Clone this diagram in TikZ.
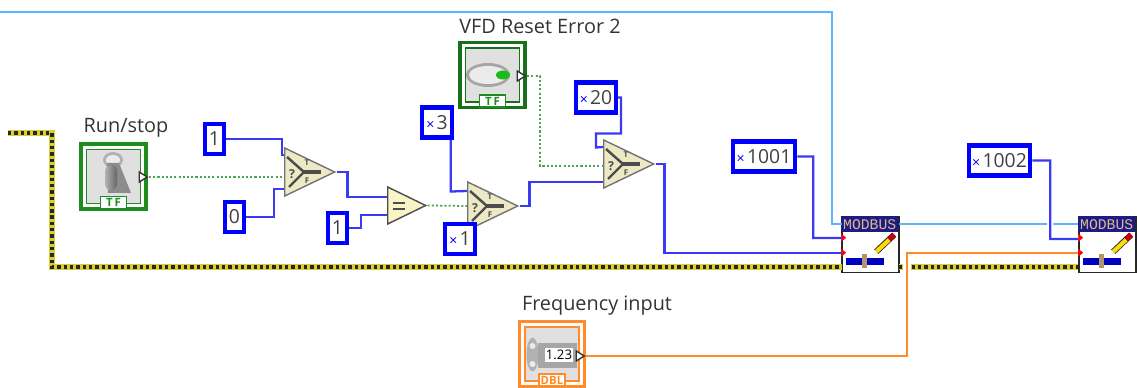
\documentclass[tikz,border=0pt]{standalone}
\usepackage{fontspec}
\setmainfont{Open Sans}
\newfontfamily\mbfont{Liberation Mono}
\usetikzlibrary{shapes.geometric}
\definecolor{wirenum}{HTML}{3A3AF5}
\definecolor{wirerefnum}{HTML}{5CB4FA}
\definecolor{wiredbl}{HTML}{FF8C28}
\definecolor{tfgreen}{HTML}{1E8C1E}
\definecolor{tfwire}{HTML}{4CA84C}
\definecolor{errbase}{HTML}{D8D030}
\definecolor{selfill}{HTML}{EDE9C4}
\definecolor{eqfill}{HTML}{F8F4C8}
\definecolor{mbnavy}{HTML}{1C1C84}
\definecolor{mbtan}{HTML}{DDB98A}
\tikzset{
  numconst/.style={draw=blue,line width=2.3pt,fill=white,minimum height=.6cm,inner sep=0pt,text=black!75,font=\fontsize{11}{12}\selectfont},
  numwire/.style={draw=wirenum,line width=1.3pt},
  refwire/.style={draw=wirerefnum,line width=1.3pt},
  tfdots/.style={draw=tfwire,line width=1pt,dash pattern=on 1.2pt off 1.2pt},
  dblwire/.style={draw=wiredbl,line width=1.3pt,preaction={draw=white,line width=4.5pt}},
  errwire/.style={draw=errbase,line width=3.4pt,postaction={draw=black!85,line width=1.9pt,dash pattern=on 1.9pt off 1.7pt}},
  selbox/.style={isosceles triangle,isosceles triangle stretches,draw=black!55,line width=.8pt,fill=selfill,minimum width=.96cm,minimum height=1cm,inner sep=0pt,anchor=lower side},
  eqbox/.style={selbox,fill=eqfill,draw=black!70,minimum width=.74cm,minimum height=.76cm},
  tfouter/.style={rectangle,line width=1.8pt,fill=white,minimum width=1.3cm,minimum height=1.3cm,inner sep=0pt},
  tfinner/.style={rectangle,line width=.8pt,fill=black!12,minimum width=1.08cm,minimum height=1.08cm,inner sep=0pt},
  tftag/.style={rectangle,draw=tfgreen,line width=.8pt,fill=white,text=tfgreen,inner sep=0pt,minimum width=.52cm,minimum height=.24cm,font=\bfseries\fontsize{6.5}{7}\selectfont},
  outpin/.style={isosceles triangle,isosceles triangle stretches,draw=black!80,fill=white,line width=.8pt,minimum width=.2cm,minimum height=.16cm,inner sep=0pt},
  mbbox/.style={rectangle,draw=black!85,line width=.9pt,fill=white,minimum width=1.14cm,minimum height=1.12cm,inner sep=0pt},
  vilabel/.style={text=black!80,inner sep=0pt,font=\fontsize{11.3}{13}\selectfont},
}
\newcommand{\hexmark}{{\color{blue}\fontsize{8}{8}\selectfont ×\,}}
\begin{document}
\begin{tikzpicture}[x=.02cm,y=-.02cm]
\useasboundingbox (0,0) rectangle (1137,388);
\clip (0,0) rectangle (1137,388);
% free ends and pins
\coordinate (ERRa) at (8,133);
\coordinate (REFa) at (0,12);
\coordinate (S1a) at (284,155);
\coordinate (S1b) at (284,189);
\coordinate (S1c) at (284,177);
\coordinate (S2a) at (467,191);
\coordinate (S2c) at (467,206);
\coordinate (S3a) at (603,147);
\coordinate (S3b) at (603,182);
\coordinate (S3c) at (603,166);
\coordinate (E1a) at (387,197);
\coordinate (E1b) at (387,215);
\coordinate (M1a) at (842,238);
\coordinate (M1b) at (842,253);
\coordinate (M1c) at (842,224);
\coordinate (M1d) at (899,224);
\coordinate (M1e) at (842,267);
\coordinate (M1f) at (899,267);
\coordinate (M2a) at (1078,239);
\coordinate (M2b) at (1078,253);
\coordinate (M2c) at (1078,224);
\coordinate (M2e) at (1078,267);
% boolean and numeric terminals
\node[tfouter,draw=tfgreen] (RUN) at (113.5,176.5) {};
\node[tfinner,draw=tfgreen] (RUNi) at (RUN) {};
\node[tftag] (RUNt) at (113.5,202.5) {T\,F};
\node[tfouter,draw=tfgreen!80!black,line width=2.2pt] (VFD) at (492.5,75) {};
\node[tfinner,draw=tfgreen!80!black] (VFDi) at (VFD) {};
\node[tftag] (VFDt) at (492.5,101) {T\,F};
\node[tfouter,draw=wiredbl] (FRQ) at (552,354) {};
\node[tfinner,draw=wiredbl] (FRQi) at (FRQ) {};
\node[tftag,draw=wiredbl,text=wiredbl] (FRQt) at (552,380) {DBL};
% toggle, led and numeric control
\fill[black!30] (113,160) ellipse (10 and 8);
\fill[black!8] (113,160) ellipse (7 and 5);
\fill[black!45] (107,163) -- (119,163) -- (131,193) -- (108,193) -- cycle;
\shade[left color=black!30,right color=black!60,rounded corners=3pt] (105,165) rectangle (117,190);
\fill[black!35] (488,75) ellipse (22 and 12);
\fill[black!8] (488,75) ellipse (19 and 9);
\fill[green!70!black!90] (503,75) ellipse (7 and 4.5);
\fill[black!30] (532.5,354.5) ellipse (6 and 17);
\fill[black!8] (532.5,346) circle (3);
\fill[black!8] (532.5,364) circle (3);
\fill[black!35] (538,343) rectangle (577,368);
\node[fill=white,inner sep=0pt,minimum width=.56cm,minimum height=.28cm,text=black,font=\fontsize{7.5}{8}\selectfont] (FRQv) at (559,355) {1.23};
\node[outpin] (RUNo) at (142,177) {};
\node[outpin] (VFDo) at (520,76) {};
\node[outpin] (FRQo) at (579,356) {};
% labels
\node[vilabel] (RUNl) at (126,128) {Run/stop};
\node[vilabel] (VFDl) at (540,26) {VFD Reset Error 2};
\node[vilabel] (FRQl) at (597,306) {Frequency input};
% comparison and select
\node[selbox] (S1) at (284,172) {};
\node[selbox] (S2) at (467,206) {};
\node[selbox] (S3) at (603,164) {};
\node[eqbox] (E1) at (387,205.5) {};
\foreach \s in {S1,S2,S3} {
  \begin{scope}[shift={(\s.lower side)}]
    \draw[black!70,line width=1.4pt] (3,-15) -- (20,0) -- (5,15);
    \draw[black!70,line width=2pt] (20,0) -- (37,0);
    \node[inner sep=0pt,text=black!70,font=\bfseries\fontsize{7}{8}\selectfont] at (8,2) {?};
    \node[inner sep=0pt,text=black!70,font=\bfseries\fontsize{4.5}{5}\selectfont] at (23,-9) {T};
    \node[inner sep=0pt,text=black!70,font=\bfseries\fontsize{4.5}{5}\selectfont] at (23,9) {F};
  \end{scope}
}
\draw[black!70,line width=1.4pt] (393,203) -- (405,203) (393,209) -- (405,209);
% constants
\node[numconst,minimum width=.39cm] (K1) at (214.5,139) {1};
\node[numconst,minimum width=.39cm] (K0) at (234.5,217) {0};
\node[numconst,minimum width=.39cm] (K2) at (337.5,228) {1};
\node[numconst,minimum width=.6cm] (X3) at (437,122.5) {\hexmark 3};
\node[numconst,minimum width=.6cm] (X1) at (460,239) {\hexmark 1};
\node[numconst,minimum width=.8cm] (X20) at (596,97.5) {\hexmark 20};
\node[numconst,minimum width=1.25cm] (X1001) at (764,156.5) {\hexmark 1001};
\node[numconst,minimum width=1.23cm] (X1002) at (999.5,160.5) {\hexmark 1002};
% modbus nodes
\node[mbbox] (M1) at (870.5,244.5) {};
\node[mbbox] (M2) at (1107.5,244.5) {};
\foreach \m in {M1,M2} {
  \begin{scope}[shift={(\m.north west)}]
    \fill[mbnavy] (0,0) rectangle (57,16);
    \node[inner sep=0pt,text=mbtan,font=\mbfont\fontsize{8.4}{9}\selectfont] at (28.5,8.5) {MODBUS};
    \fill[blue!75!black] (5,42) rectangle (43,49);
    \fill[mbtan!80!black] (21,38) rectangle (26,52);
    \draw[black!85,line width=3.4pt] (35,36) -- (53,19);
    \draw[yellow!80!orange,line width=2.4pt] (35,36) -- (48,24);
    \draw[red!80!black,line width=2.6pt] (48,24) -- (53,19);
    \fill[red] (0,18) -- (5,22) -- (0,26) -- cycle;
    \fill[red] (0,33) -- (5,37) -- (0,41) -- cycle;
  \end{scope}
}
% wires
\draw[errwire] (ERRa) -- (52,133) -- (52,267) -- (M1e);
\draw[errwire] (M1f) -- (M2e);
\draw[refwire] (REFa) -- (832,12) -- (832,224) -- (M1c);
\draw[refwire] (M1d) -- (M2c);
\draw[numwire] (K1.east) -- ++(56,0) -- ++(0,16) -- (S1a);
\draw[numwire] (K0.east) -- ++(28,0) -- ++(0,-28) -- (S1b);
\draw[tfdots] (RUNo.apex) -- (S1c);
\draw[numwire] (S1.apex) -- ++(11,0) -- ++(0,25) -- (E1a);
\draw[numwire] (K2.east) -- ++(12,0) -- ++(0,-13) -- (E1b);
\draw[tfdots] (E1.apex) -- (S2c);
\draw[numwire] (X3.-51) -- ++(0,52) -- (S2a);
\draw[numwire] (S2.apex) -- ++(10,0) -- ++(0,-24) -- (S3b);
\draw[numwire] (X20.east) -- ++(3,0) -- ++(0,36) -- ++(-25,0) -- ++(0,14) -- (S3a);
\draw[tfdots] (VFDo.apex) -- ++(13,0) -- ++(0,90) -- (S3c);
\draw[numwire] (S3.apex) -- ++(9,0) -- ++(0,89) -- (M1b);
\draw[numwire] (X1001.east) -- ++(16,0) -- ++(0,81.5) -- (M1a);
\draw[numwire,preaction={draw=white,line width=3.5pt}] (X1002.east) -- ++(18,0) -- ++(0,78.5) -- (M2a);
\draw[dblwire] (FRQo.apex) -- (907,356) -- (907,253) -- (M2b);
\end{tikzpicture}
\end{document}
